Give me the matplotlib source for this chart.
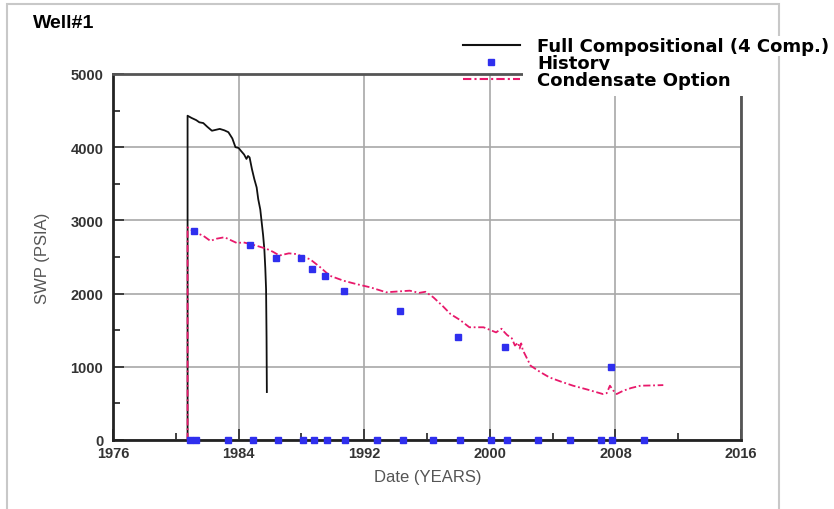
import matplotlib
matplotlib.use("Agg")
import matplotlib.pyplot as plt
from matplotlib.lines import Line2D
from matplotlib.patches import Rectangle
from matplotlib.ticker import MultipleLocator

# Full compositional (4 comp.) simulation run
full_years = [1980.75, 1980.75, 1981.0, 1981.3, 1981.5, 1981.75, 1982.0, 1982.3,
              1982.6, 1982.8, 1983.1, 1983.35, 1983.6, 1983.8, 1984.0, 1984.15,
              1984.35, 1984.5, 1984.6, 1984.7, 1984.85, 1985.0, 1985.15, 1985.25,
              1985.38, 1985.47, 1985.56, 1985.64, 1985.7, 1985.75, 1985.78, 1985.8]
full_swp = [0, 4430, 4400, 4370, 4340, 4330, 4280, 4225,
            4240, 4250, 4230, 4205, 4120, 4000, 3990, 3950,
            3900, 3840, 3880, 3860, 3700, 3565, 3450, 3290,
            3150, 2975, 2800, 2605, 2350, 2060, 1400, 655]

# Condensate option simulation run
cond_years = [1980.75, 1980.75, 1981.2, 1981.75, 1982.2, 1982.6, 1983.1, 1983.5,
              1983.9, 1984.3, 1984.7, 1985.2, 1985.8, 1986.2, 1986.6, 1987.2,
              1987.7, 1988.1, 1988.55, 1989.2, 1989.8, 1990.7, 1991.5, 1992.4,
              1993.4, 1994.2, 1994.9, 1995.5, 1995.9, 1996.4, 1997.0, 1997.5,
              1998.1, 1998.7, 1999.6, 2000.4, 2000.6, 2000.75, 2000.9, 2001.1,
              2001.4, 2001.6, 2001.8, 2001.9, 2002.0, 2002.1, 2002.6, 2003.2,
              2003.8, 2004.5, 2005.3, 2006.2, 2007.2, 2007.45, 2007.65, 2007.85,
              2008.08, 2008.5, 2009.0, 2009.6, 2010.3, 2011.05]
cond_swp = [0, 2905, 2840, 2790, 2720, 2750, 2770, 2730,
            2690, 2700, 2680, 2650, 2610, 2570, 2520, 2550,
            2540, 2500, 2470, 2360, 2245, 2175, 2130, 2085,
            2018, 2030, 2040, 2010, 2025, 1950, 1830, 1720,
            1640, 1540, 1540, 1470, 1500, 1520, 1480, 1435,
            1390, 1290, 1330, 1250, 1320, 1230, 1015, 930,
            855, 800, 742, 690, 628, 640, 742, 680,
            628, 673, 710, 742, 745, 750]

# Measured shut-in well pressure
hist_years = [1981.15, 1984.7, 1986.4, 1988.0, 1988.7, 1989.5, 1990.7, 1994.3,
              1998.0, 2001.0, 2007.7,
              1980.9, 1981.3, 1983.3, 1984.9, 1986.5, 1988.1, 1988.8, 1989.6,
              1990.8, 1992.8, 1994.5, 1996.4, 1998.1, 2000.1, 2001.1, 2003.1,
              2005.1, 2007.1, 2007.8, 2009.8]
hist_swp = [2850, 2665, 2490, 2490, 2335, 2240, 2035, 1760,
            1405, 1270, 1000,
            0, 0, 0, 0, 0, 0, 0, 0,
            0, 0, 0, 0, 0, 0, 0, 0,
            0, 0, 0, 0]

labels = ["Full Compositional (4 Comp.)", "History", "Condensate Option"]

plt.rcParams['font.family'] = ['Liberation Sans', 'DejaVu Sans']

fig = plt.figure(figsize=(8.34, 5.10), dpi=100)
ax = fig.add_axes([113 / 834, 1 - 441 / 510, 628 / 834, 366 / 510])

black_color = "#111111"
pink_color = "#e8196b"
blue_color = "#2f2fee"
dashdot = (0, (4, 1.5, 1, 1.5))

ax.plot(full_years, full_swp, color=black_color, lw=1.3, zorder=3)
ax.plot(cond_years, cond_swp, color=pink_color, lw=1.3,
        linestyle=dashdot, zorder=4)
ax.plot(hist_years, hist_swp, linestyle="none", marker="s", markersize=4.5,
        color=blue_color, zorder=5, clip_on=False)

ax.set_xlim(1976, 2016)
ax.set_ylim(0, 5000)
ax.xaxis.set_major_locator(MultipleLocator(8))
ax.xaxis.set_minor_locator(MultipleLocator(4))
ax.yaxis.set_major_locator(MultipleLocator(1000))
ax.yaxis.set_minor_locator(MultipleLocator(500))

ax.grid(True, which="major", color="#a8a8a8", lw=1.2)
ax.set_axisbelow(True)

ax.tick_params(which="both", direction="in", colors="#333333", width=1.3,
               top=False, right=False)
ax.tick_params(which="major", length=8)
ax.tick_params(which="minor", length=5)
ax.tick_params(axis="x", pad=4)
ax.tick_params(axis="y", pad=7)
for lab in ax.get_xticklabels() + ax.get_yticklabels():
    lab.set_fontweight("bold")
    lab.set_fontsize(10.5)
    lab.set_color("#333333")

for side in ["left", "bottom"]:
    ax.spines[side].set_color("#222222")
    ax.spines[side].set_linewidth(2)
for side in ["top", "right"]:
    ax.spines[side].set_color("#555555")
    ax.spines[side].set_linewidth(2)

ax.set_xlabel("Date (YEARS)", fontsize=12, color="#555555")
ax.set_ylabel("SWP (PSIA)", fontsize=12, color="#555555")
ax.xaxis.set_label_coords((428 - 113) / 628, -(470 - 441) / 366)
ax.yaxis.set_label_coords(-(113 - 50) / 628, 0.5)

fig.text(33 / 834, 1 - 23 / 510, "Well#1", fontsize=14, fontweight="bold",
         va="center", ha="left", color="black")

# light outer frame and the white patch behind the legend
fig.patches.append(Rectangle((7 / 834, -0.01), 772 / 834, 1.0 - 5 / 510 + 0.01,
                             transform=fig.transFigure, fill=False,
                             edgecolor="#c8c8c8", lw=1.5, zorder=2))
fig.patches.append(Rectangle((523 / 834, 1 - 97 / 510), 311 / 834, 60 / 510,
                             transform=fig.transFigure, facecolor="white",
                             edgecolor="none", zorder=1))

handles = [
    Line2D([], [], color=black_color, lw=1.5),
    Line2D([], [], linestyle="none", marker="s", markersize=4.5, color=blue_color),
    Line2D([], [], color=pink_color, lw=1.5, linestyle=dashdot),
]
leg = fig.legend(handles, labels, loc="upper left",
                 bbox_to_anchor=(463 / 834, 1 - 38 / 510),
                 frameon=False, handlelength=3.15, handletextpad=0.95,
                 labelspacing=-0.06, borderpad=0, borderaxespad=0,
                 prop={"family": "DejaVu Sans", "weight": "bold", "size": 13})
leg.set_zorder(6)
for t in leg.get_texts():
    t.set_bbox(dict(facecolor="white", edgecolor="none", pad=0.5))

fig.savefig("out.png", dpi=100)
